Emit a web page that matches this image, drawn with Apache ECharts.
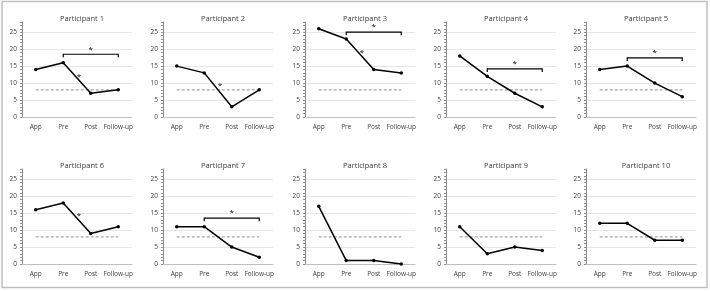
<!DOCTYPE html>
<html>
<head>
<meta charset="utf-8">
<script src="https://cdn.jsdelivr.net/npm/echarts@6/dist/echarts.min.js"></script>
<style>
  html, body { margin: 0; padding: 0; background: #fff; }
  #chart { width: 710px; height: 291px; }
</style>
</head>
<body>
<div id="chart"></div>
<script>
const categories = ['App', 'Pre', 'Post', 'Follow-up']
const participants = ['Participant 1', 'Participant 2', 'Participant 3', 'Participant 4', 'Participant 5',
    'Participant 6', 'Participant 7', 'Participant 8', 'Participant 9', 'Participant 10']
const scores = [
    [14, 16, 7, 8],
    [15, 13, 3, 8],
    [26, 23, 14, 13],
    [18, 12, 7, 3],
    [14, 15, 10, 6],
    [16, 18, 9, 11],
    [11, 11, 5, 2],
    [17, 1, 1, 0],
    [11, 3, 5, 4],
    [12, 12, 7, 7],
]
const cutoff = 8
const yMin = 0
const yMax = 28
const yInterval = 5
// [panel index, bracket level] : bracket Pre -> Follow-up with a star
const brackets = [[0, 18.5], [2, 25], [3, 14.2], [4, 17.4], [6, 13.5]]
// [panel index, star level] : star between Pre and Post
const midStars = [[0, 12], [1, 9.1], [2, 18.8], [5, 14.1]]

const colLeft = [22, 163, 305, 446, 586]
const rowTop = [22, 169]
const plotW = 110
const plotH = 95
const font = 'Open Sans'

const grids = [], xAxes = [], yAxes = [], titles = [], series = []

participants.forEach((name, i) => {
    const col = i % 5
    const row = Math.floor(i / 5)
    grids.push({ left: colLeft[col], top: rowTop[row], width: plotW, height: plotH })
    titles.push({
        text: name,
        left: colLeft[col] + plotW / 2,
        top: rowTop[row] - 12,
        textAlign: 'center',
        textStyle: { fontSize: 7.5, fontWeight: 'normal', color: '#404040', fontFamily: font },
    })
    xAxes.push({
        type: 'category',
        gridIndex: i,
        data: categories,
        axisLine: { lineStyle: { color: '#bfbfbf' } },
        axisTick: { show: false },
        axisLabel: { color: '#404040', fontSize: 6.5, fontFamily: font, margin: 7, interval: 0 },
    })
    yAxes.push({
        type: 'value',
        gridIndex: i,
        min: yMin,
        max: yMax,
        interval: yInterval,
        axisLine: { show: true, lineStyle: { color: '#8c8c8c' } },
        axisTick: { show: true, length: 2, inside: false, lineStyle: { color: '#8c8c8c' } },
        minorTick: { show: true, splitNumber: 5, length: 2, lineStyle: { color: '#8c8c8c' } },
        axisLabel: {
            color: '#404040', fontSize: 6.5, fontFamily: font, margin: 5,
            formatter: (v) => (v % yInterval === 0 ? String(v) : ''),
        },
        splitLine: { show: true, showMaxLine: false, lineStyle: { color: '#e6e6e6' } },
    })
    series.push({
        type: 'line',
        xAxisIndex: i,
        yAxisIndex: i,
        data: categories.map(() => cutoff),
        symbol: 'none',
        silent: true,
        lineStyle: { color: '#a6a6a6', width: 1.2, type: [3, 2] },
        z: 2,
    })
    series.push({
        type: 'line',
        xAxisIndex: i,
        yAxisIndex: i,
        data: scores[i],
        symbol: 'circle',
        symbolSize: 3.5,
        itemStyle: { color: '#000' },
        lineStyle: { color: '#000', width: 1.5 },
        z: 3,
    })
})

brackets.forEach(([i, level]) => {
    series.push({
        type: 'custom',
        xAxisIndex: i,
        yAxisIndex: i,
        data: [[level]],
        renderItem: (params, api) => {
            const lv = api.value(0)
            const a = api.coord([1, lv])
            const b = api.coord([3, lv])
            const drop = api.size([0, 0.9])[1]
            return {
                type: 'group',
                children: [
                    {
                        type: 'polyline',
                        shape: { points: [[a[0], a[1] + drop], a, b, [b[0], b[1] + drop]] },
                        style: { stroke: '#000', lineWidth: 1.2, fill: null },
                    },
                    {
                        type: 'text',
                        style: {
                            text: '*', x: (a[0] + b[0]) / 2, y: a[1] - 1,
                            align: 'center', verticalAlign: 'bottom',
                            fontSize: 8, fontFamily: font, fill: '#000',
                        },
                    },
                ],
            }
        },
        z: 4,
    })
})

midStars.forEach(([i, level]) => {
    series.push({
        type: 'custom',
        xAxisIndex: i,
        yAxisIndex: i,
        data: [[level]],
        renderItem: (params, api) => {
            const lv = api.value(0)
            const a = api.coord([1, lv])
            const b = api.coord([2, lv])
            return {
                type: 'text',
                style: {
                    text: '*', x: (a[0] + b[0]) / 2 + 2, y: a[1],
                    align: 'center', verticalAlign: 'middle',
                    fontSize: 8, fontFamily: font, fill: '#000',
                },
            }
        },
        z: 4,
    })
})

const chart = echarts.init(document.getElementById('chart'), null, { renderer: 'canvas' })
chart.setOption({
    animation: false,
    backgroundColor: '#fff',
    title: titles,
    grid: grids,
    xAxis: xAxes,
    yAxis: yAxes,
    series: series,
    graphic: [{
        type: 'rect',
        shape: { x: 2, y: 1.5, width: 705, height: 286 },
        style: { fill: null, stroke: '#bfbfbf', lineWidth: 1.5 },
        silent: true,
    }],
})
</script>
</body>
</html>
